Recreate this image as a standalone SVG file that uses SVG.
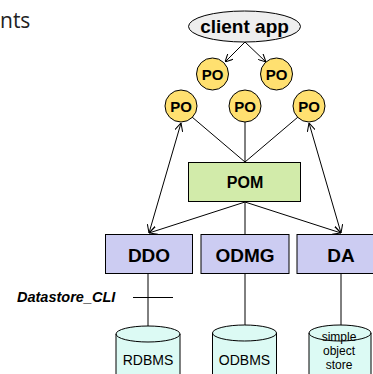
<svg xmlns="http://www.w3.org/2000/svg" width="373" height="374" viewBox="0 0 373 374">
<defs>
<marker id="ah" viewBox="0 0 10 10" refX="10" refY="5" markerWidth="8" markerHeight="8" markerUnits="userSpaceOnUse" orient="auto-start-reverse">
<path d="M0,0 L10,5 L0,10" fill="none" stroke="#000" stroke-width="1.3"/>
</marker>
<style>
.b{font-family:"Liberation Sans",Arial,sans-serif;font-weight:bold;fill:#000;text-anchor:middle}
.r{font-family:"Liberation Sans",Arial,sans-serif;fill:#000;text-anchor:middle;font-size:14px}
.s{font-family:"Liberation Sans",Arial,sans-serif;fill:#000;text-anchor:middle;font-size:12px}
.po{fill:#ffe070;stroke:#000;stroke-width:1}
.box{fill:#ccccf2;stroke:#000;stroke-width:1}
.cyl{fill:#dcfaf4;stroke:#000;stroke-width:1}
.ln{stroke:#000;stroke-width:1;fill:none}
</style>
</defs>
<rect width="373" height="374" fill="#fff"/>
<text x="0" y="28" font-family="'Open Sans',sans-serif" font-size="21" fill="#222">nts</text>

<g id="connectors">
<line class="ln" x1="245" y1="42" x2="225" y2="62" marker-end="url(#ah)"/>
<line class="ln" x1="245" y1="42" x2="266" y2="62" marker-end="url(#ah)"/>
<line class="ln" x1="192" y1="117" x2="245" y2="162"/>
<line class="ln" x1="245" y1="122" x2="245" y2="162"/>
<line class="ln" x1="298" y1="117" x2="245" y2="162"/>
<line class="ln" x1="245" y1="202" x2="149" y2="233" marker-end="url(#ah)"/>
<line class="ln" x1="245" y1="202" x2="245" y2="234"/>
<line class="ln" x1="245" y1="202" x2="341" y2="233" marker-end="url(#ah)"/>
<line class="ln" x1="181" y1="123" x2="149" y2="233" marker-start="url(#ah)" marker-end="url(#ah)"/>
<line class="ln" x1="309" y1="123" x2="341" y2="233" marker-start="url(#ah)" marker-end="url(#ah)"/>
<line class="ln" x1="148" y1="274" x2="148" y2="327"/>
<line class="ln" x1="245" y1="274" x2="245" y2="326"/>
<line class="ln" x1="341" y1="274" x2="341" y2="326"/>
<line class="ln" x1="133" y1="297.5" x2="173" y2="297.5"/>
</g>

<g id="client_app">
<ellipse cx="244.5" cy="26.5" rx="56" ry="15.5" fill="#eeeeee" stroke="#000" stroke-width="1"/>
<text class="b" x="244.5" y="33" font-size="19">client app</text>
</g>
<g id="po1"><circle class="po" cx="212.5" cy="74" r="16"/><text class="b" x="212.5" y="79.5" font-size="15">PO</text></g>
<g id="po2"><circle class="po" cx="276.5" cy="74" r="16"/><text class="b" x="276.5" y="79.5" font-size="15">PO</text></g>
<g id="po3"><circle class="po" cx="181" cy="106" r="16"/><text class="b" x="181" y="111.5" font-size="15">PO</text></g>
<g id="po4"><circle class="po" cx="245" cy="106" r="16"/><text class="b" x="245" y="111.5" font-size="15">PO</text></g>
<g id="po5"><circle class="po" cx="309" cy="106" r="16"/><text class="b" x="309" y="111.5" font-size="15">PO</text></g>

<g id="pom">
<rect x="188.5" y="162.5" width="112" height="39" fill="#d2ebaa" stroke="#000" stroke-width="1"/>
<text class="b" x="245" y="188" font-size="16">POM</text>
</g>
<g id="ddo"><rect class="box" x="105.5" y="234.5" width="87" height="39"/><text class="b" x="149" y="262" font-size="19">DDO</text></g>
<g id="odmg"><rect class="box" x="201" y="234.5" width="88" height="39"/><text class="b" x="245" y="262" font-size="19">ODMG</text></g>
<g id="da"><rect class="box" x="297" y="234.5" width="80" height="39"/><text class="b" x="341" y="262" font-size="19">DA</text></g>

<g id="datastore_cli">
<text x="17" y="302" font-family="'Liberation Sans',Arial,sans-serif" font-weight="bold" font-style="italic" font-size="14.5" fill="#000">Datastore_CLI</text>
</g>

<g id="rdbms">
<path class="cyl" d="M116,334 L116,378 L180,378 L180,334 A32,8 0 0 0 116,334 Z"/>
<path class="ln" d="M116,334 A32,8 0 0 0 180,334"/>
<text class="r" x="148" y="365">RDBMS</text>
</g>
<g id="odbms">
<path class="cyl" d="M212.5,333 L212.5,378 L276.5,378 L276.5,333 A32,8 0 0 0 212.5,333 Z"/>
<path class="ln" d="M212.5,333 A32,8 0 0 0 276.5,333"/>
<text class="r" x="244.5" y="365">ODBMS</text>
</g>
<g id="simple_store">
<path class="cyl" d="M309,333 L309,378 L371,378 L371,333 A31,8 0 0 0 309,333 Z"/>
<path class="ln" d="M309,333 A31,8 0 0 0 371,333"/>
<text class="s" x="339" y="341">simple</text>
<text class="s" x="339" y="355">object</text>
<text class="s" x="339" y="369">store</text>
</g>
</svg>
